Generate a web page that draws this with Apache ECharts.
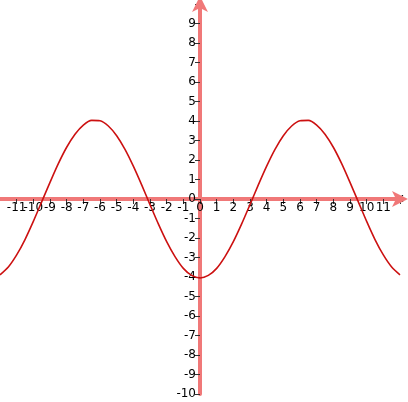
<!DOCTYPE html>
<html>
<head>
<meta charset="utf-8">
<script src="https://cdn.jsdelivr.net/npm/echarts@6/dist/echarts.min.js"></script>
<style>
  html, body { margin: 0; padding: 0; background: #fff; }
  #chart { width: 408px; height: 402px; }
</style>
</head>
<body>
<div id="chart"></div>
<script>
// points
const xs = [-12, -11.5, -11, -10.5, -10, -9.5, -9, -8.5, -8, -7.5, -7, -6.5, -6, -5.5, -5, -4.5, -4, -3.5, -3, -2.5, -2, -1.5, -1, -0.5,
  0, 0.5, 1, 1.5, 2, 2.5, 3, 3.5, 4, 4.5, 5, 5.5, 6, 6.5, 7, 7.5, 8, 8.5, 9, 9.5, 10, 10.5, 11, 11.5, 12]
const ys = [-3.89, -3.49, -2.87, -2.08, -1.15, -0.15, 0.85, 1.81, 2.65, 3.32, 3.79, 4.03, 4.01, 3.74, 3.24, 2.54, 1.68, 0.72, -0.29, -1.28, -2.19, -2.96, -3.56, -3.92,
  -4.05, -3.92, -3.56, -2.96, -2.19, -1.28, -0.29, 0.72, 1.68, 2.54, 3.24, 3.74, 4.01, 4.03, 3.79, 3.32, 2.65, 1.81, 0.85, -0.15, -1.15, -2.08, -2.87, -3.49, -3.89]

const axisColor = '#f07878'
const labelFont = { color: '#000', fontSize: 12, fontFamily: 'DejaVu Sans' }

const chart = echarts.init(document.getElementById('chart'))
chart.setOption({
  animation: false,
  grid: { left: 0, right: 8, top: 0, bottom: 8 },
  xAxis: {
    type: 'value',
    min: -12,
    max: 12,
    interval: 1,
    offset: -195,
    splitLine: { show: false },
    axisLine: {
      onZero: false,
      symbol: ['none', 'arrow'],
      symbolSize: [12, 16],
      symbolOffset: [0, 8],
      lineStyle: { color: axisColor, width: 4 }
    },
    axisTick: { length: 5, lineStyle: { color: '#333', width: 1 } },
    axisLabel: Object.assign({
      margin: 3,
      formatter: v => (v === 12 ? '' : String(v))
    }, labelFont),
    name: 'x',
    nameLocation: 'end',
    nameGap: -12,
    nameTextStyle: Object.assign({ padding: [26, 0, 0, 0] }, labelFont)
  },
  yAxis: {
    type: 'value',
    min: -10,
    max: 10.2,
    interval: 1,
    offset: -200,
    splitLine: { show: false },
    axisLine: {
      onZero: false,
      symbol: ['none', 'arrow'],
      symbolSize: [12, 16],
      symbolOffset: [0, 4],
      lineStyle: { color: axisColor, width: 4 }
    },
    axisTick: { length: 5, lineStyle: { color: '#333', width: 1 } },
    axisLabel: Object.assign({
      margin: 4,
      showMaxLabel: false,
      formatter: v => (v > 9.5 ? '' : String(v))
    }, labelFont)
  },
  series: [{
    type: 'line',
    data: xs.map((x, i) => [x, ys[i]]),
    smooth: 0.3,
    symbol: 'none',
    lineStyle: { color: '#cc1111', width: 1.6 },
    z: 3
  }]
})
</script>
</body>
</html>
